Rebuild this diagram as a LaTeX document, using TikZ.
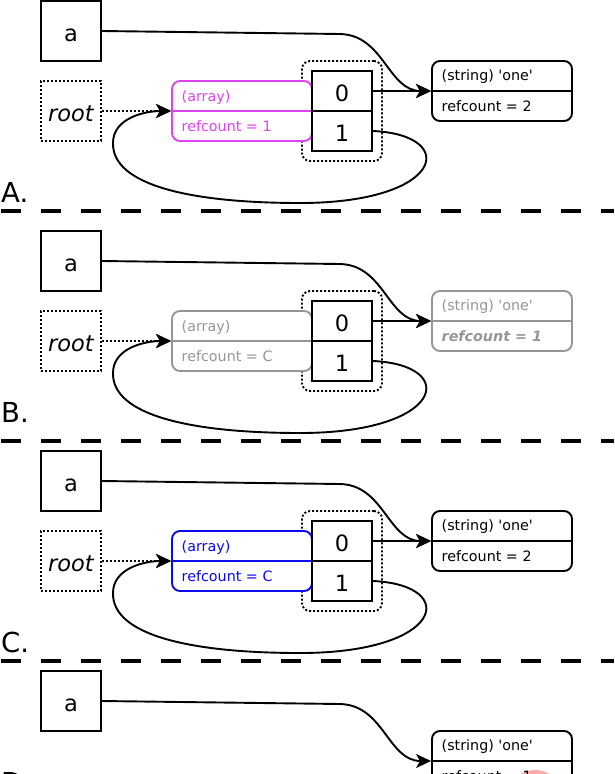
\documentclass[tikz,border=0pt]{standalone}
\usepackage{fontspec}
\setmainfont{DejaVu Sans}
\usetikzlibrary{arrows.meta}
\definecolor{mag}{RGB}{221,68,238}
\definecolor{blu}{RGB}{10,10,235}
\definecolor{gry}{RGB}{150,150,150}
\definecolor{pinkc}{RGB}{246,172,172}
\newcommand\sq{\XeTeXglyph\XeTeXcharglyph"27\relax}
\newcommand\panel[6]{%
\begin{scope}[shift={(0,#2)}]
\node[bigbox] (#1a) at (71,31) {a};
\node[dotbox] (#1root) at (71,111) {\itshape root};
\node[container] (#1cont) at (342,111) {};
\node[recbox,draw=#3] (#1arr) at (242,111) {};
\draw[#3,line width=1.9pt] (#1arr.west) -- (#1arr.east);
\node[small,text=#3] (#1arrT) at (181.5,101) {(array)};
\node[small,text=#3] (#1arrR) at (181.5,131) {#4};
\node[cell] (#1c0) at (342,91) {0};
\node[cell] (#1c1) at (342,131) {1};
\node[recbox,draw=#5] (#1str) at (502,91) {};
\draw[#5,line width=1.9pt] (#1str.west) -- (#1str.east);
\node[small,text=#5] (#1strT) at (441.5,80.5) {(string) \sq one\sq};
\node[small,text=#5] (#1strR) at (441.5,111) {#6};
\draw[conn] (#1a.east) -- (340,34) .. controls (384,35) and (388,91) .. (#1str.west);
\draw[conn] (#1c0.east) -- (#1str.west);
\draw[conn] (#1c1.east) .. controls (460,135) and (444,203) .. (300,203)
   .. controls (190,203) and (112,185) .. (113,143)
   .. controls (113,118) and (145,111) .. (#1arr.west);
\draw[conn, dash pattern=on 2pt off 2pt] (#1root.east) -- (#1arr.west);
\end{scope}}
\begin{document}
\begin{tikzpicture}[x=1pt,y=-1pt,
  bigbox/.style={draw, line width=1.9pt, minimum width=60pt, minimum height=60pt,
    inner sep=0pt, text height=20pt, text depth=0pt, font=\fontsize{22.5}{26}\selectfont},
  dotbox/.style={bigbox, dash pattern=on 2pt off 2pt},
  cell/.style={draw, fill=white, line width=1.9pt, minimum width=60pt, minimum height=40pt,
    inner sep=0pt, text height=20pt, text depth=0pt, font=\fontsize{22.5}{26}\selectfont},
  container/.style={draw, line width=1.9pt, dash pattern=on 2pt off 2pt, rounded corners=8pt,
    minimum width=80pt, minimum height=100pt, inner sep=0pt},
  recbox/.style={draw, fill=white, line width=1.9pt, rounded corners=8pt,
    minimum width=140pt, minimum height=60pt, inner sep=0pt},
  small/.style={anchor=base west, inner sep=0pt, font=\fontsize{14.3}{17}\selectfont},
  lbl/.style={anchor=base west, inner sep=0pt, font=\fontsize{27.5}{32}\selectfont},
  conn/.style={line width=1.9pt, -{Stealth[length=15pt,width=14pt,inset=4pt]}},
  sep/.style={line width=3.5pt, dash pattern=on 20pt off 20pt}
]
\useasboundingbox (0,0) rectangle (614,774);
\clip (0,0) rectangle (614,774);

\panel{A}{0}{mag}{refcount = 1}{black}{refcount = 2}
\panel{B}{230}{gry}{refcount = C}{gry}{\bfseries\itshape refcount = 1}
\panel{C}{450}{blu}{refcount = C}{black}{refcount = 2}

\begin{scope}[shift={(0,670)}]
\node[bigbox] (Da) at (71,31) {a};
\node[recbox] (Dstr) at (502,91) {};
\node[circle, fill=pinkc, minimum size=56pt, inner sep=0pt] (Dhl) at (535,128) {};
\draw[line width=1.9pt] (Dstr.west) -- (Dstr.east);
\node[small] (DstrT) at (441.5,80.5) {(string) \sq one\sq};
\node[small] (DstrR) at (441.5,111) {refcount = 1};
\draw[conn] (Da.east) -- (340,34) .. controls (384,35) and (388,91) .. (Dstr.west);
\end{scope}

\node[lbl] (labA) at (1,202) {A.};
\node[lbl] (labB) at (1,422) {B.};
\node[lbl] (labC) at (1,652) {C.};
\node[lbl] (labD) at (1,792) {D.};

\coordinate (s1l) at (1,211); \coordinate (s1r) at (614,211);
\coordinate (s2l) at (1,441); \coordinate (s2r) at (614,441);
\coordinate (s3l) at (1,661); \coordinate (s3r) at (614,661);
\draw[sep] (s1l) -- (s1r);
\draw[sep] (s2l) -- (s2r);
\draw[sep] (s3l) -- (s3r);
\end{tikzpicture}
\end{document}
